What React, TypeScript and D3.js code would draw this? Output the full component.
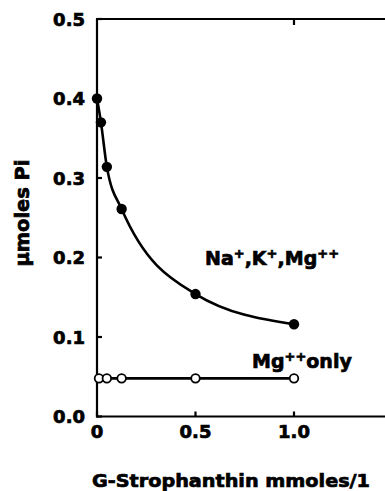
import React from "react";
import * as d3 from "d3";

const naKMgX = [0, 0.02, 0.05, 0.125, 0.5, 1.0];
const naKMgY = [0.4, 0.37, 0.314, 0.261, 0.154, 0.116];
const mgOnlyX = [0.01, 0.05, 0.125, 0.5, 1.0];
const mgOnlyY = [0.048, 0.048, 0.048, 0.048, 0.048];
const yTicks = [0.0, 0.1, 0.2, 0.3, 0.4, 0.5];
const yTickLabels = ["0.0", "0.1", "0.2", "0.3", "0.4", "0.5"];
const xTicks = [0, 0.5, 1.0];
const xTickLabels = ["0", "0.5", "1.0"];

const W = 385;
const H = 491;
const FONT = "'DejaVu Sans', 'Liberation Sans', sans-serif";

export default function App() {
  const x = d3.scaleLinear().domain([0, 1]).range([97, 294]);
  const y = d3.scaleLinear().domain([0, 0.5]).range([416.5, 19]);
  const line = d3
    .line<[number, number]>()
    .x((d) => x(d[0]))
    .y((d) => y(d[1]))
    .curve(d3.curveMonotoneX);
  const naData: [number, number][] = naKMgX.map((v, i) => [v, naKMgY[i]]);
  const mgData: [number, number][] = mgOnlyX.map((v, i) => [v, mgOnlyY[i]]);
  const x0 = x(0);
  const xEnd = W;
  return (
    <svg
      width={W}
      height={H}
      style={{ position: "absolute", left: 0, top: 0, background: "#fff" }}
    >
      <g stroke="#000" strokeWidth={2.2} fill="none">
        <line x1={x0} x2={x0} y1={y(0.5)} y2={y(0) + 1} />
        <line x1={x0 - 1} x2={xEnd} y1={y(0)} y2={y(0)} />
        <line x1={x0 - 1} x2={xEnd} y1={y(0.5)} y2={y(0.5)} />
        {yTicks.map((t) => (
          <line key={"yt" + t} x1={x0} x2={x0 + 5} y1={y(t)} y2={y(t)} />
        ))}
        {xTicks.map((t) => (
          <line key={"xt" + t} x1={x(t)} x2={x(t)} y1={y(0)} y2={y(0) - 5} />
        ))}
        <line x1={x(1)} x2={x(1)} y1={y(0.5)} y2={y(0.5) + 6} />
      </g>
      <g fontFamily={FONT} fontWeight="bold" fill="#000" stroke="#000" strokeWidth={0.7}>
        {yTicks.map((t, i) => (
          <text
            key={"yl" + t}
            x={85}
            y={y(t) + 6.5}
            fontSize={18}
            textAnchor="end"
          >
            {yTickLabels[i]}
          </text>
        ))}
        {xTicks.map((t, i) => (
          <text
            key={"xl" + t}
            x={x(t)}
            y={438}
            fontSize={18}
            textAnchor="middle"
          >
            {xTickLabels[i]}
          </text>
        ))}
        <text
          transform={`translate(29,213) rotate(-90)`}
          fontSize={19}
          textAnchor="middle"
          textLength={107}
          lengthAdjust="spacingAndGlyphs"
        >
          µmoles Pi
        </text>
        <text x={92} y={487} fontSize={18} textLength={278} lengthAdjust="spacingAndGlyphs">
          G-Strophanthin mmoles/1
        </text>
        <text x={205} y={265} fontSize={19}>
          Na<tspan fontSize={13} dy={-7}>+</tspan>
          <tspan dy={7}>,K</tspan>
          <tspan fontSize={13} dy={-7}>+</tspan>
          <tspan dy={7}>,Mg</tspan>
          <tspan fontSize={13} dy={-7}>++</tspan>
        </text>
        <text x={252} y={368} fontSize={19}>
          Mg<tspan fontSize={13} dy={-7}>++</tspan>
          <tspan dy={7}>only</tspan>
        </text>
      </g>
      <path d={line(naData) || ""} stroke="#000" strokeWidth={2.6} fill="none" />
      <path d={line(mgData) || ""} stroke="#000" strokeWidth={2.6} fill="none" />
      {naData.map((d, i) => (
        <circle key={"n" + i} cx={x(d[0])} cy={y(d[1])} r={5.2} fill="#000" />
      ))}
      {mgData.map((d, i) => (
        <circle
          key={"m" + i}
          cx={x(d[0])}
          cy={y(d[1])}
          r={4.3}
          fill="#fff"
          stroke="#000"
          strokeWidth={1.8}
        />
      ))}
    </svg>
  );
}
